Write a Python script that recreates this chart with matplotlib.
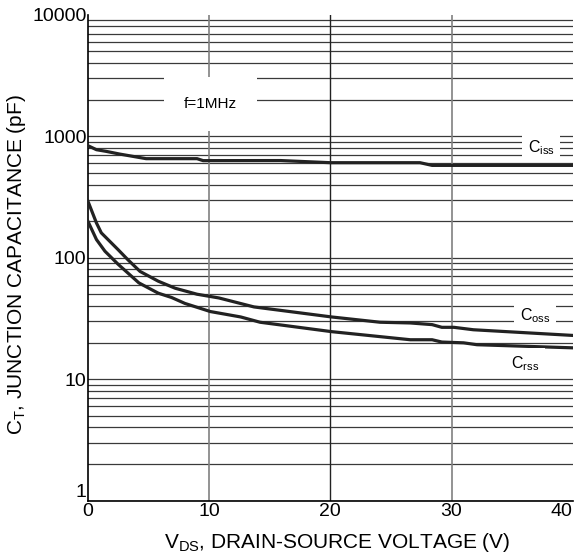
import matplotlib
matplotlib.use("Agg")
import matplotlib.pyplot as plt
import matplotlib.ticker as mticker

plt.rcParams['font.family'] = ['Liberation Sans', 'DejaVu Sans']
plt.rcParams['mathtext.fontset'] = 'custom'
plt.rcParams['mathtext.rm'] = 'Liberation Sans'
plt.rcParams['mathtext.it'] = 'Liberation Sans'

# curves (V, pF)
ciss_v = [0, 0.7, 1.5, 2.6, 4.8, 9.0, 9.5, 15.9, 20, 27.4, 28.4, 40]
ciss_c = [835, 774, 750, 713, 653, 653, 629, 630, 605, 605, 575, 575]

coss_v = [0, 0.7, 1.1, 2.5, 3.3, 4.3, 5.8, 7.2, 9.0, 10.8, 13.7, 20.1, 24.1, 26.6, 28.4, 29.2, 30.2, 31.8, 40]
coss_c = [291, 193, 160, 116, 96, 77, 64, 56, 50, 46.6, 39.3, 32.5, 29.4, 29, 28.1, 26.7, 26.7, 25.5, 22.9]

crss_v = [0, 0.7, 1.4, 2.5, 4.2, 5.8, 6.9, 8.0, 10.1, 12.6, 14.2, 20.1, 26.6, 28.4, 29.2, 31.0, 32.1, 40]
crss_c = [199, 141, 113, 88, 62, 51, 47, 42, 36, 32.5, 29.4, 24.6, 21.1, 21.1, 20.2, 19.9, 19.2, 18.1]

x_ticks = [0, 10, 20, 30, 40]
y_ticks = [1, 10, 100, 1000, 10000]

fig = plt.figure(figsize=(5.75, 5.55), dpi=100)
ax = fig.add_axes([0.153, 0.098, 0.843, 0.8755])

ax.set_yscale('log')
ax.set_xlim(0, 40)
ax.set_ylim(1, 10000)

# grid
for dec in [1, 10, 100, 1000]:
    for m in range(1, 10):
        ax.axhline(dec * m, color='#3a3a3a', lw=0.9, zorder=1)
ax.axvline(10, color='#808080', lw=1.2, zorder=1)
ax.axvline(20, color='#222222', lw=1.0, zorder=1)
ax.axvline(30, color='#808080', lw=1.2, zorder=1)

ax.plot(ciss_v, ciss_c, color='#222222', lw=2.3, zorder=3)
ax.plot(coss_v, coss_c, color='#222222', lw=2.3, zorder=3)
ax.plot(crss_v, crss_c, color='#222222', lw=2.3, zorder=3)

box = dict(facecolor='white', edgecolor='none', boxstyle='square,pad=0.35')
ax.text(37.4, 810, r'C$_{\mathrm{iss}}$', fontsize=11.5, ha='center', va='center', bbox=box, zorder=4)
ax.text(36.9, 33.5, r'C$_{\mathrm{oss}}$', fontsize=11.5, ha='center', va='center', bbox=box, zorder=4)
ax.text(36.1, 13.5, r'C$_{\mathrm{rss}}$', fontsize=11.5, ha='center', va='center', bbox=box, zorder=4)
ax.text(10.1, 1850, 'f=1MHz', fontsize=11, ha='center', va='center',
        bbox=dict(facecolor='white', edgecolor='none', boxstyle='square,pad=1.3'), zorder=4)

ax.set_xticks(x_ticks)
ax.set_yticks(y_ticks)
ax.yaxis.set_major_formatter(mticker.FuncFormatter(lambda v, p: '%d' % v))
ax.yaxis.set_minor_locator(mticker.NullLocator())
ax.tick_params(length=0, labelsize=14, pad=1)
ax.tick_params(axis='x', pad=2)
xl = ax.get_xticklabels()
xl[-1].set_horizontalalignment('right')
xl[-1].set_x(40.25)
ax.get_yticklabels()[0].set_verticalalignment('bottom')

for s in ['top', 'right']:
    ax.spines[s].set_visible(False)
ax.spines['left'].set_linewidth(1.2)
ax.spines['bottom'].set_linewidth(1.2)

ax.set_xlabel(r'V$_{\mathrm{DS}}$, DRAIN-SOURCE VOLTAGE (V)', fontsize=15)
ax.set_ylabel(r'C$_{\mathrm{T}}$, JUNCTION CAPACITANCE (pF)', fontsize=15)
ax.xaxis.set_label_coords(0.515, -0.063)
ax.yaxis.set_label_coords(-0.124, 0.486)

fig.savefig('out.png', dpi=100)
